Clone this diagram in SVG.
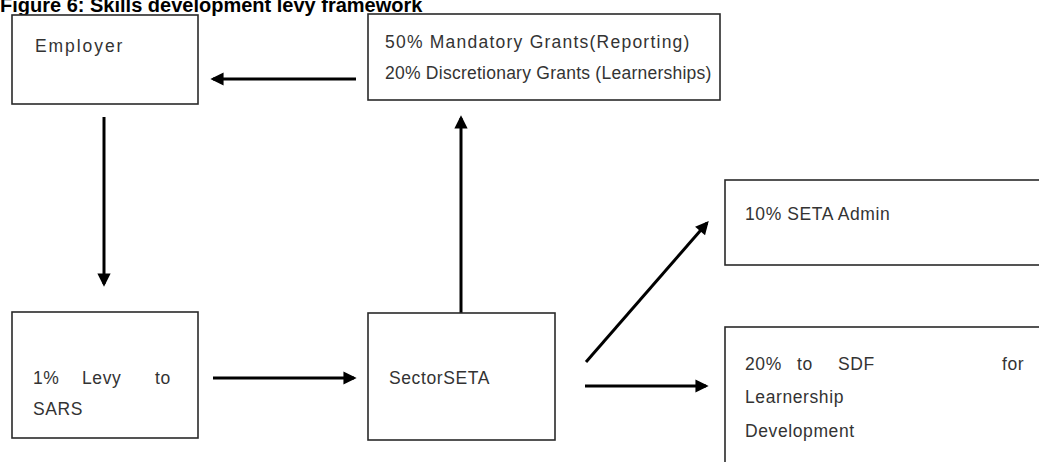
<svg xmlns="http://www.w3.org/2000/svg" width="1039" height="462" viewBox="0 0 1039 462">
<style>
.box{fill:#fff;stroke:#2a2a2a;stroke-width:1.6}
.t{font-family:"Liberation Sans",Arial,sans-serif;font-size:17.5px;fill:#333;letter-spacing:0.6px}
.title{font-family:"Liberation Sans",Arial,sans-serif;font-size:20px;font-weight:bold;fill:#000}
.c{stroke:#000;stroke-width:3;fill:none;marker-end:url(#ah)}
</style>
<defs>
<marker id="ah" viewBox="0 0 10 10" refX="8" refY="5" markerWidth="5" markerHeight="4.4" orient="auto" markerUnits="strokeWidth">
<path d="M0,0 L10,5 L0,10 z" fill="#000"/>
</marker>
</defs>
<text class="title" x="0" y="12">Figure 6: Skills development levy framework</text>
<g id="connectors">
<line class="c" x1="356" y1="79" x2="213" y2="79"/>
<line class="c" x1="104" y1="117" x2="104" y2="284"/>
<line class="c" x1="213" y1="378" x2="354" y2="378"/>
<line class="c" x1="461" y1="327" x2="461" y2="118"/>
<line class="c" x1="586" y1="362" x2="707" y2="223"/>
<line class="c" x1="585" y1="386" x2="706" y2="386"/>
</g>
<g id="employer">
<rect class="box" x="12" y="15" width="186" height="89"/>
<text class="t" x="35" y="52" textLength="88" lengthAdjust="spacing">Employer</text>
</g>
<g id="grants">
<rect class="box" x="368" y="14" width="352" height="86"/>
<text class="t" x="385" y="48" textLength="305" lengthAdjust="spacing">50% Mandatory Grants(Reporting)</text>
<text class="t" x="385" y="79" textLength="327" lengthAdjust="spacing">20% Discretionary Grants (Learnerships)</text>
</g>
<g id="levy">
<rect class="box" x="12" y="312" width="186" height="126"/>
<text class="t" x="33" y="384">1%</text>
<text class="t" x="82" y="384">Levy</text>
<text class="t" x="155" y="384">to</text>
<text class="t" x="33" y="415">SARS</text>
</g>
<g id="sector">
<rect class="box" x="368" y="313" width="187" height="127"/>
<text class="t" x="389" y="384">SectorSETA</text>
</g>
<g id="admin">
<rect class="box" x="725" y="180" width="330" height="85"/>
<text class="t" x="745" y="220">10% SETA Admin</text>
</g>
<g id="sdf">
<rect class="box" x="725" y="327" width="330" height="150"/>
<text class="t" x="745" y="370">20%</text>
<text class="t" x="797" y="370">to</text>
<text class="t" x="838" y="370">SDF</text>
<text class="t" x="1002" y="370">for</text>
<text class="t" x="745" y="403">Learnership</text>
<text class="t" x="745" y="437">Development</text>
</g>
</svg>
